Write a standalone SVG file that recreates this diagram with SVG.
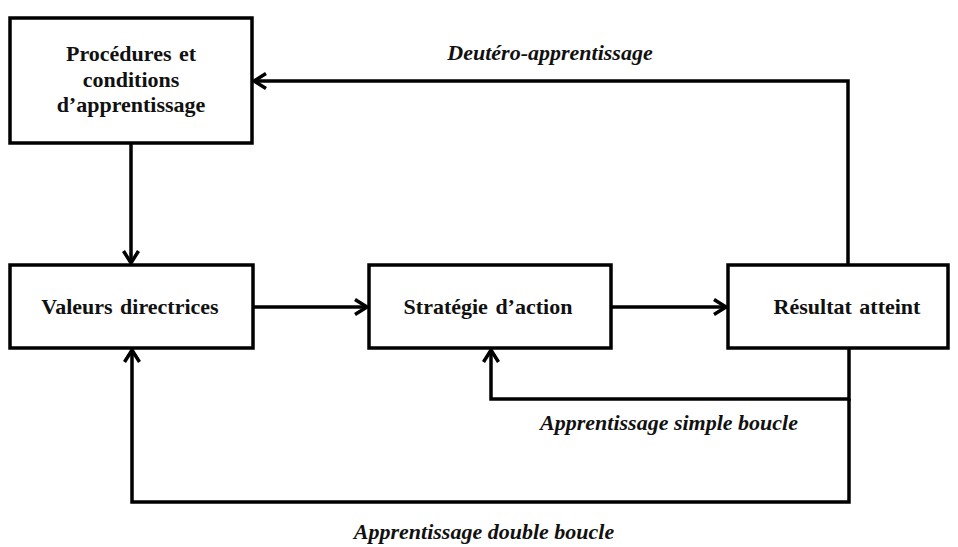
<svg xmlns="http://www.w3.org/2000/svg" width="958" height="547" viewBox="0 0 958 547">
<style>
.box{fill:#fff;stroke:#000;stroke-width:3.5}
.t{font-family:"Liberation Serif","Times New Roman",serif;font-weight:bold;font-size:22px;word-spacing:2px;fill:#111;text-anchor:middle}
.lbl{font-family:"Liberation Serif","Times New Roman",serif;font-weight:bold;font-style:italic;font-size:22px;fill:#111;text-anchor:middle}
.c{fill:none;stroke:#000;stroke-width:3.5}
</style>
<defs>
<marker id="ah" markerUnits="userSpaceOnUse" markerWidth="20" markerHeight="20" refX="14" refY="10" orient="auto">
<polyline points="2,2.5 14,10 2,17.5" fill="none" stroke="#000" stroke-width="3.5"/>
</marker>
</defs>
<g id="connectors">
<path class="c" d="M848,265 V81 H254" marker-end="url(#ah)"/>
<path class="c" d="M131,143 V263" marker-end="url(#ah)"/>
<path class="c" d="M253,307 H367" marker-end="url(#ah)"/>
<path class="c" d="M612,307 H726" marker-end="url(#ah)"/>
<path class="c" d="M849,348 V399 H491 V350" marker-end="url(#ah)"/>
<path class="c" d="M849,399 V502 H132 V350" marker-end="url(#ah)"/>
</g>
<g id="n-procedures">
<rect class="box" x="10" y="18" width="242" height="125"/>
<text class="t" x="131" y="61">Procédures et</text>
<text class="t" x="131" y="87">conditions</text>
<text class="t" x="131" y="112">d’apprentissage</text>
</g>
<g id="n-valeurs">
<rect class="box" x="10" y="265" width="243" height="83"/>
<text class="t" x="130" y="314">Valeurs directrices</text>
</g>
<g id="n-strategie">
<rect class="box" x="369" y="265" width="242" height="83"/>
<text class="t" x="488" y="314">Stratégie d’action</text>
</g>
<g id="n-resultat">
<rect class="box" x="728" y="265" width="220" height="83"/>
<text class="t" x="847" y="314">Résultat atteint</text>
</g>
<g id="labels">
<text class="lbl" x="550" y="60">Deutéro-apprentissage</text>
<text class="lbl" x="669" y="430">Apprentissage simple boucle</text>
<text class="lbl" x="484" y="539">Apprentissage double boucle</text>
</g>
</svg>
